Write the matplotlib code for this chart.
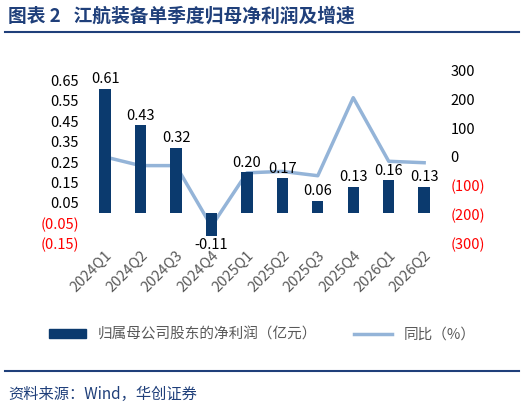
import matplotlib
matplotlib.use("Agg")
import matplotlib.pyplot as plt
import numpy as np
from matplotlib.lines import Line2D
from matplotlib.patches import Patch

plt.rcParams['font.family'] = ['Noto Sans CJK SC', 'DejaVu Sans']

quarters = ["2024Q1", "2024Q2", "2024Q3", "2024Q4", "2025Q1", "2025Q2",
            "2025Q3", "2025Q4", "2026Q1", "2026Q2"]
profit = [0.61, 0.43, 0.32, -0.11, 0.20, 0.17, 0.06, 0.13, 0.16, 0.13]
yoy = [0, -30, -30, -240, -55, -50, -65, 205, -15, -20]
left_ticks = [-0.15, -0.05, 0.05, 0.15, 0.25, 0.35, 0.45, 0.55, 0.65]
right_ticks = [-300, -200, -100, 0, 100, 200, 300]

BAR = "#0B3A6E"
LINE = "#94B4D8"
NAVY = "#1F3F7A"
GRAY = "#595959"

fig = plt.figure(figsize=(5.24, 4.13), dpi=100)
ax = fig.add_axes([0.16, 0.41, 0.69, 0.42])
x = np.arange(len(quarters))
ax.bar(x, profit, width=0.32, color=BAR, zorder=2)
for xi, v in zip(x, profit):
    ax.text(xi, v + (0.012 if v >= 0 else -0.012), f"{v:.2f}", ha="center",
            va="bottom" if v >= 0 else "top", fontsize=10.5, color="black", zorder=5)
ax.set_ylim(-0.15, 0.70)
ax.set_xlim(-0.6, len(quarters) - 0.4)
ax.set_yticks(left_ticks)
labels = [f"({abs(t):.2f})" if t < 0 else f"{t:.2f}" for t in left_ticks]
ax.set_yticklabels(labels, fontsize=10.5)
for lab, t in zip(ax.get_yticklabels(), left_ticks):
    lab.set_color("red" if t < 0 else "black")
ax.set_xticks(x)
ax.set_xticklabels(quarters, rotation=45, ha="right", rotation_mode="anchor",
                   fontsize=10.5, color=GRAY)
for s in ax.spines.values():
    s.set_visible(False)
ax.tick_params(length=0)

ax2 = ax.twinx()
ax2.plot(x, yoy, color=LINE, lw=2.5, zorder=3)
ax2.set_ylim(-300, 300)
ax2.set_yticks(right_ticks)
ax2.set_yticklabels([f"({abs(t)})" if t < 0 else str(t) for t in right_ticks], fontsize=10.5)
for lab, t in zip(ax2.get_yticklabels(), right_ticks):
    lab.set_color("red" if t < 0 else "black")
for s in ax2.spines.values():
    s.set_visible(False)
ax2.tick_params(length=0)
ax.set_zorder(ax2.get_zorder() + 1)
ax.patch.set_visible(False)

handles = [Patch(color=BAR), Line2D([], [], color=LINE, lw=2.5)]
fig.legend(handles, ["归属母公司股东的净利润（亿元）", "同比（%）"], loc="center",
           bbox_to_anchor=(0.5, 0.19), ncol=2, frameon=False, fontsize=10.5,
           labelcolor=GRAY, handlelength=2.6, columnspacing=2.5, handleheight=0.5)

fig.text(0.015, 0.962, "图表 2   江航装备单季度归母净利润及增速", fontsize=13.5,
         fontweight="bold", color=NAVY, va="center", family=["Noto Sans CJK SC"])
fig.add_artist(Line2D([0.01, 0.99], [0.922, 0.922], color=NAVY, lw=1.5))
fig.add_artist(Line2D([0.01, 0.99], [0.102, 0.102], color=NAVY, lw=1.5))
fig.text(0.015, 0.045, "资料来源：Wind，华创证券", fontsize=11, style="italic",
         color=NAVY, va="center")

fig.savefig("out.png", dpi=100)
